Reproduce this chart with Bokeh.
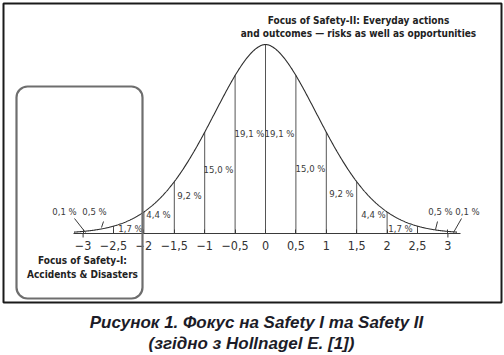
import numpy as np
from bokeh.plotting import figure
from bokeh.models import BoxAnnotation, FixedTicker, Range1d
from bokeh.core.properties import value
from bokeh.embed import file_html
from bokeh.resources import INLINE

# ---------------- data ----------------
ticks = [-3, -2.5, -2, -1.5, -1, -0.5, 0, 0.5, 1, 1.5, 2, 2.5, 3]
tick_labels = ["−3", "−2,5", "−2", "−1,5", "−1", "−0,5", "0",
               "0,5", "1", "1,5", "2", "2,5", "3"]
# share of outcomes in each half-sigma band, left tail to right tail
pct_values = [0.1, 0.5, 1.7, 4.4, 9.2, 15.0, 19.1,
              19.1, 15.0, 9.2, 4.4, 1.7, 0.5, 0.1]
title_lines = ["Focus of Safety-II: Everyday actions",
               "and outcomes — risks as well as opportunities"]
box_lines = ["Focus of Safety-I:", "Accidents & Disasters"]
caption_lines = ["Рисунок 1. Фокус на Safety I та Safety II",
                 "(згідно з Hollnagel E. [1])"]

# bell curve as drawn (peak height of the normal density)
PEAK = 0.3989
SHAPE_A, SHAPE_P = 1.3, 1.8
def bell(x):
    return PEAK * np.exp(-(np.abs(np.asarray(x, float)) / SHAPE_A) ** SHAPE_P)

# ---------------- layout helpers (pixel -> data) ----------------
XS, X0 = 60.8, 265.0
YS, Y0 = 473.8, 233.0
def dx(px): return (np.asarray(px, float) - X0) / XS
def dy(py): return (Y0 - np.asarray(py, float)) / YS

COND = "DejaVu Sans Condensed, Liberation Sans, sans-serif"

W, H = 504, 355
p = figure(width=W, height=H, x_range=Range1d(float(dx(0)), float(dx(W))),
           y_range=Range1d(float(dy(H)), float(dy(0))),
           output_backend="svg", toolbar_location=None, min_border=0,
           outline_line_color=None, y_axis_location=None,
           background_fill_color="white", border_fill_color="white")
p.grid.visible = False

ax = p.xaxis[0]
ax.fixed_location = 0
ax.ticker = FixedTicker(ticks=ticks)
ax.major_label_overrides = {t: l for t, l in zip(ticks, tick_labels)}
ax.bounds = (float(dx(73)), float(dx(460)))
ax.axis_line_color = "#3a3a3a"
ax.axis_line_width = 1
ax.major_tick_in = 4
ax.major_tick_out = 0
ax.major_tick_line_color = "#3a3a3a"
ax.minor_tick_line_color = None
ax.major_label_standoff = 7
ax.major_label_text_font = COND
ax.major_label_text_font_size = "12.5px"
ax.major_label_text_color = "#333333"

# outer frame
p.add_layout(BoxAnnotation(left=float(dx(3)), right=float(dx(501)),
                           top=float(dy(3)), bottom=float(dy(302)),
                           fill_color=None, line_color="#1a1a1a",
                           line_alpha=1.0, line_width=2))
# Safety-I rounded box
p.add_layout(BoxAnnotation(left=float(dx(16)), right=float(dx(142)),
                           top=float(dy(86)), bottom=float(dy(298)),
                           fill_color=None, line_color="#6e6e6e",
                           line_alpha=1.0, line_width=2.2, border_radius=11))

# vertical band separators up to the curve
inner = [t for t in ticks if abs(t) < 3]
p.segment(x0=inner, y0=[0] * len(inner), x1=inner, y1=list(bell(inner)),
          line_color="#555555", line_width=1)
# end ticks below the axis at ±3
ends = [ticks[0], ticks[-1]]
p.segment(x0=ends, y0=[0, 0], x1=ends, y1=[float(dy(237))] * 2,
          line_color="#3a3a3a", line_width=1)

# curve
xs = np.linspace(-3.15, 3.15, 601)
p.line(xs, bell(xs), line_color="#2e2e2e", line_width=1.1)

# percentage labels
pct_x_px = [64, 94, 130, 158, 189, 218, 249, 279, 310, 341, 373, 400, 440, 467]
pct_y_px = [211, 211, 228, 214, 195, 169, 133, 133, 168, 193, 214, 228, 211, 211]
pct_text = [f"{v:.1f}".replace(".", ",") + " %" for v in pct_values]
p.text(x=list(dx(pct_x_px)), y=list(dy(pct_y_px)), text=pct_text,
       text_font=value(COND), text_font_size="9.5px",
       text_color="#3a3a3a", text_align="center", text_baseline="middle")

# leader lines for the tail labels
lx0 = [74, 103, 437, 461]; ly0 = [218, 221, 221, 218]
lx1 = [85, 101, 435, 453]; ly1 = [232, 227, 229, 232]
p.segment(x0=list(dx(lx0)), y0=list(dy(ly0)), x1=list(dx(lx1)), y1=list(dy(ly1)),
          line_color="#3a3a3a", line_width=1)

# headings
p.text(x=list(dx([358, 358])), y=list(dy([20, 33])), text=title_lines,
       text_font=value(COND), text_font_size="10px",
       text_font_style="bold", text_color="#222222",
       text_align="center", text_baseline="middle")
p.text(x=list(dx([82, 82])), y=list(dy([260, 274])), text=box_lines,
       text_font=value(COND), text_font_size="10px",
       text_font_style="bold", text_color="#222222",
       text_align="center", text_baseline="middle")

# caption
p.text(x=list(dx([256, 251])), y=list(dy([322, 343])), text=caption_lines,
       text_font=value("Liberation Sans"), text_font_size="17px",
       text_font_style="bold italic", text_color="#1c1c28",
       text_align="center", text_baseline="middle")

open("out.html", "w").write(file_html(p, INLINE))
